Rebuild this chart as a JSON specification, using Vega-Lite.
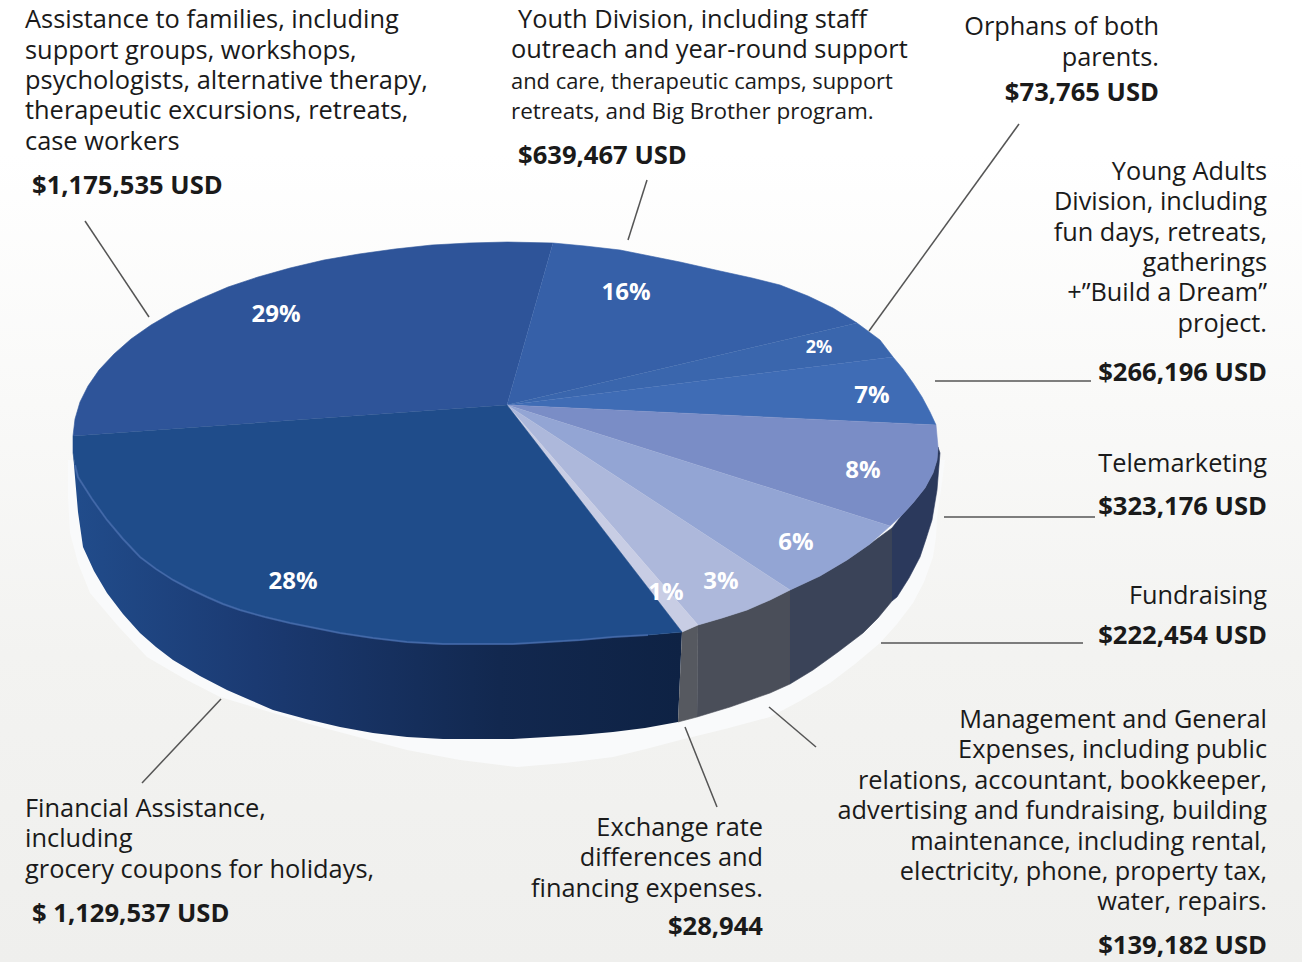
{
"$schema":"https://vega.github.io/schema/vega-lite/v6.json",
"width":1302,"height":962,"padding":0,"autosize":{"type":"fit","contains":"padding"},
"background":"#ffffff",
"view":{"stroke":null},
"datasets":{
"bg":[{"x":0,"y":0,"x2":1302,"y2":962}],
"poly":[
{"part":"shadow","i":1,"x":945,"y":460},{"part":"shadow","i":2,"x":941,"y":490},{"part":"shadow","i":3,"x":937,"y":517},{"part":"shadow","i":4,"x":936,"y":537},{"part":"shadow","i":5,"x":933,"y":557},{"part":"shadow","i":6,"x":924,"y":582},{"part":"shadow","i":7,"x":913,"y":603},{"part":"shadow","i":8,"x":897,"y":624},{"part":"shadow","i":9,"x":880,"y":643},{"part":"shadow","i":10,"x":855,"y":664},{"part":"shadow","i":11,"x":830,"y":683},{"part":"shadow","i":12,"x":800,"y":701},{"part":"shadow","i":13,"x":770,"y":717},{"part":"shadow","i":14,"x":725,"y":729},{"part":"shadow","i":15,"x":680,"y":740},{"part":"shadow","i":16,"x":646,"y":749},{"part":"shadow","i":17,"x":613,"y":757},{"part":"shadow","i":18,"x":565,"y":763},{"part":"shadow","i":19,"x":517,"y":767},{"part":"shadow","i":20,"x":460,"y":760},{"part":"shadow","i":21,"x":407,"y":750},{"part":"shadow","i":22,"x":313,"y":725},{"part":"shadow","i":23,"x":220,"y":697},{"part":"shadow","i":24,"x":183,"y":678},{"part":"shadow","i":25,"x":147,"y":657},{"part":"shadow","i":26,"x":118,"y":626},{"part":"shadow","i":27,"x":90,"y":593},{"part":"shadow","i":28,"x":78,"y":563},{"part":"shadow","i":29,"x":70,"y":533},{"part":"shadow","i":30,"x":68,"y":497},{"part":"shadow","i":31,"x":68,"y":460},
{"part":"wall28","i":1,"x":73,"y":453},{"part":"wall28","i":2,"x":75,"y":465},{"part":"wall28","i":3,"x":78,"y":477},{"part":"wall28","i":4,"x":92,"y":499},{"part":"wall28","i":5,"x":107,"y":520},{"part":"wall28","i":6,"x":123,"y":539},{"part":"wall28","i":7,"x":140,"y":557},{"part":"wall28","i":8,"x":156,"y":569},{"part":"wall28","i":9,"x":173,"y":580},{"part":"wall28","i":10,"x":190,"y":589},{"part":"wall28","i":11,"x":207,"y":597},{"part":"wall28","i":12,"x":223,"y":604},{"part":"wall28","i":13,"x":240,"y":610},{"part":"wall28","i":14,"x":265,"y":617},{"part":"wall28","i":15,"x":290,"y":623},{"part":"wall28","i":16,"x":315,"y":628},{"part":"wall28","i":17,"x":340,"y":633},{"part":"wall28","i":18,"x":373,"y":638},{"part":"wall28","i":19,"x":407,"y":642},{"part":"wall28","i":20,"x":443,"y":644},{"part":"wall28","i":21,"x":480,"y":644},{"part":"wall28","i":22,"x":513,"y":644},{"part":"wall28","i":23,"x":547,"y":642},{"part":"wall28","i":24,"x":580,"y":640},{"part":"wall28","i":25,"x":613,"y":637},{"part":"wall28","i":26,"x":648,"y":635},{"part":"wall28","i":27,"x":682,"y":632},{"part":"wall28","i":28,"x":678,"y":722},{"part":"wall28","i":29,"x":645,"y":728},{"part":"wall28","i":30,"x":613,"y":732},{"part":"wall28","i":31,"x":580,"y":735},{"part":"wall28","i":32,"x":547,"y":737},{"part":"wall28","i":33,"x":513,"y":739},{"part":"wall28","i":34,"x":480,"y":739},{"part":"wall28","i":35,"x":443,"y":739},{"part":"wall28","i":36,"x":407,"y":737},{"part":"wall28","i":37,"x":373,"y":733},{"part":"wall28","i":38,"x":340,"y":727},{"part":"wall28","i":39,"x":306,"y":719},{"part":"wall28","i":40,"x":273,"y":710},{"part":"wall28","i":41,"x":250,"y":700},{"part":"wall28","i":42,"x":227,"y":690},{"part":"wall28","i":43,"x":200,"y":676},{"part":"wall28","i":44,"x":173,"y":660},{"part":"wall28","i":45,"x":156,"y":647},{"part":"wall28","i":46,"x":140,"y":633},{"part":"wall28","i":47,"x":123,"y":614},{"part":"wall28","i":48,"x":107,"y":593},{"part":"wall28","i":49,"x":94,"y":571},{"part":"wall28","i":50,"x":83,"y":547},{"part":"wall28","i":51,"x":78,"y":512},{"part":"wall28","i":52,"x":75,"y":477},
{"part":"wall1","i":1,"x":682,"y":632},{"part":"wall1","i":2,"x":698,"y":625},{"part":"wall1","i":3,"x":697,"y":717},{"part":"wall1","i":4,"x":678,"y":722},
{"part":"wall3","i":1,"x":698,"y":625},{"part":"wall3","i":2,"x":722,"y":618},{"part":"wall3","i":3,"x":747,"y":610},{"part":"wall3","i":4,"x":770,"y":600},{"part":"wall3","i":5,"x":790,"y":590},{"part":"wall3","i":6,"x":790,"y":684},{"part":"wall3","i":7,"x":770,"y":693},{"part":"wall3","i":8,"x":750,"y":700},{"part":"wall3","i":9,"x":730,"y":707},{"part":"wall3","i":10,"x":697,"y":717},
{"part":"wall6","i":1,"x":790,"y":590},{"part":"wall6","i":2,"x":820,"y":576},{"part":"wall6","i":3,"x":847,"y":560},{"part":"wall6","i":4,"x":870,"y":544},{"part":"wall6","i":5,"x":892,"y":528},{"part":"wall6","i":6,"x":892,"y":601},{"part":"wall6","i":7,"x":878,"y":618},{"part":"wall6","i":8,"x":863,"y":633},{"part":"wall6","i":9,"x":838,"y":652},{"part":"wall6","i":10,"x":813,"y":670},{"part":"wall6","i":11,"x":790,"y":684},
{"part":"wall8","i":1,"x":892,"y":528},{"part":"wall8","i":2,"x":902,"y":515},{"part":"wall8","i":3,"x":913,"y":503},{"part":"wall8","i":4,"x":925,"y":488},{"part":"wall8","i":5,"x":933,"y":473},{"part":"wall8","i":6,"x":937,"y":460},{"part":"wall8","i":7,"x":938,"y":447},{"part":"wall8","i":8,"x":940,"y":453},{"part":"wall8","i":9,"x":937,"y":490},{"part":"wall8","i":10,"x":932,"y":520},{"part":"wall8","i":11,"x":926,"y":539},{"part":"wall8","i":12,"x":920,"y":557},{"part":"wall8","i":13,"x":909,"y":578},{"part":"wall8","i":14,"x":897,"y":597},{"part":"wall8","i":15,"x":892,"y":601},
{"part":"s29","i":1,"x":507,"y":405},{"part":"s29","i":2,"x":73,"y":436},{"part":"s29","i":3,"x":75,"y":419},{"part":"s29","i":4,"x":80,"y":402},{"part":"s29","i":5,"x":88,"y":386},{"part":"s29","i":6,"x":99,"y":370},{"part":"s29","i":7,"x":114,"y":354},{"part":"s29","i":8,"x":131,"y":339},{"part":"s29","i":9,"x":151,"y":325},{"part":"s29","i":10,"x":175,"y":311},{"part":"s29","i":11,"x":200,"y":299},{"part":"s29","i":12,"x":228,"y":287},{"part":"s29","i":13,"x":258,"y":277},{"part":"s29","i":14,"x":290,"y":268},{"part":"s29","i":15,"x":324,"y":260},{"part":"s29","i":16,"x":359,"y":254},{"part":"s29","i":17,"x":395,"y":249},{"part":"s29","i":18,"x":432,"y":245},{"part":"s29","i":19,"x":469,"y":243},{"part":"s29","i":20,"x":507,"y":242},{"part":"s29","i":21,"x":553,"y":243},
{"part":"s16","i":1,"x":507,"y":405},{"part":"s16","i":2,"x":553,"y":243},{"part":"s16","i":3,"x":585,"y":246},{"part":"s16","i":4,"x":620,"y":250},{"part":"s16","i":5,"x":650,"y":256},{"part":"s16","i":6,"x":680,"y":262},{"part":"s16","i":7,"x":720,"y":271},{"part":"s16","i":8,"x":752,"y":278},{"part":"s16","i":9,"x":780,"y":285},{"part":"s16","i":10,"x":808,"y":296},{"part":"s16","i":11,"x":833,"y":308},{"part":"s16","i":12,"x":857,"y":323},
{"part":"s2","i":1,"x":507,"y":405},{"part":"s2","i":2,"x":857,"y":323},{"part":"s2","i":3,"x":880,"y":340},{"part":"s2","i":4,"x":893,"y":357},
{"part":"s7","i":1,"x":507,"y":405},{"part":"s7","i":2,"x":893,"y":357},{"part":"s7","i":3,"x":903,"y":369},{"part":"s7","i":4,"x":913,"y":383},{"part":"s7","i":5,"x":922,"y":397},{"part":"s7","i":6,"x":930,"y":412},{"part":"s7","i":7,"x":936,"y":425},
{"part":"s8","i":1,"x":507,"y":405},{"part":"s8","i":2,"x":936,"y":425},{"part":"s8","i":3,"x":938,"y":447},{"part":"s8","i":4,"x":937,"y":460},{"part":"s8","i":5,"x":933,"y":473},{"part":"s8","i":6,"x":925,"y":488},{"part":"s8","i":7,"x":913,"y":503},{"part":"s8","i":8,"x":902,"y":515},{"part":"s8","i":9,"x":890,"y":526},
{"part":"s6","i":1,"x":507,"y":405},{"part":"s6","i":2,"x":890,"y":526},{"part":"s6","i":3,"x":870,"y":544},{"part":"s6","i":4,"x":847,"y":560},{"part":"s6","i":5,"x":820,"y":576},{"part":"s6","i":6,"x":790,"y":590},
{"part":"s3","i":1,"x":507,"y":405},{"part":"s3","i":2,"x":790,"y":590},{"part":"s3","i":3,"x":770,"y":600},{"part":"s3","i":4,"x":747,"y":610},{"part":"s3","i":5,"x":722,"y":618},{"part":"s3","i":6,"x":698,"y":625},
{"part":"s1","i":1,"x":507,"y":405},{"part":"s1","i":2,"x":698,"y":625},{"part":"s1","i":3,"x":682,"y":632},
{"part":"s28","i":1,"x":507,"y":405},{"part":"s28","i":2,"x":682,"y":632},{"part":"s28","i":3,"x":648,"y":635},{"part":"s28","i":4,"x":613,"y":637},{"part":"s28","i":5,"x":580,"y":640},{"part":"s28","i":6,"x":547,"y":642},{"part":"s28","i":7,"x":513,"y":644},{"part":"s28","i":8,"x":480,"y":644},{"part":"s28","i":9,"x":443,"y":644},{"part":"s28","i":10,"x":407,"y":642},{"part":"s28","i":11,"x":373,"y":638},{"part":"s28","i":12,"x":340,"y":633},{"part":"s28","i":13,"x":315,"y":628},{"part":"s28","i":14,"x":290,"y":623},{"part":"s28","i":15,"x":265,"y":617},{"part":"s28","i":16,"x":240,"y":610},{"part":"s28","i":17,"x":223,"y":604},{"part":"s28","i":18,"x":207,"y":597},{"part":"s28","i":19,"x":190,"y":589},{"part":"s28","i":20,"x":173,"y":580},{"part":"s28","i":21,"x":156,"y":569},{"part":"s28","i":22,"x":140,"y":557},{"part":"s28","i":23,"x":123,"y":539},{"part":"s28","i":24,"x":107,"y":520},{"part":"s28","i":25,"x":92,"y":499},{"part":"s28","i":26,"x":78,"y":477},{"part":"s28","i":27,"x":75,"y":465},{"part":"s28","i":28,"x":73,"y":453},{"part":"s28","i":29,"x":73,"y":436}
],
"leaders":[
{"x":85,"y":221,"x2":149,"y2":317},{"x":647,"y":180,"x2":628,"y2":240},{"x":1019,"y":124,"x2":869,"y2":331},{"x":935,"y":381,"x2":1091,"y2":381},{"x":944,"y":517,"x2":1095,"y2":517},{"x":881,"y":643,"x2":1083,"y2":643},{"x":769,"y":707,"x2":816,"y2":747},{"x":685,"y":727,"x2":717,"y2":807},{"x":221,"y":699,"x2":142,"y2":783}
],
"labels":[
{"g":"nl","t":"Assistance to families, including","x":25,"y":28},
{"g":"nl","t":"support groups, workshops,","x":25,"y":59},
{"g":"nl","t":"psychologists, alternative therapy,","x":25,"y":89},
{"g":"nl","t":"therapeutic excursions, retreats,","x":25,"y":119},
{"g":"nl","t":"case workers","x":25,"y":150},
{"g":"nl","t":"Youth Division, including staff","x":518,"y":28},
{"g":"nl","t":"outreach and year-round support","x":511,"y":58},
{"g":"tl","t":"and care, therapeutic camps, support","x":511,"y":89},
{"g":"tm","t":"retreats, and Big Brother program.","x":511,"y":119},
{"g":"nl","t":"Financial Assistance,","x":25,"y":817},
{"g":"nl","t":"including","x":25,"y":847},
{"g":"nl","t":"grocery coupons for holidays,","x":25,"y":878},
{"g":"nr","t":"Orphans of both","x":1159,"y":35},
{"g":"nr","t":"parents.","x":1159,"y":66},
{"g":"nr","t":"Young Adults","x":1267,"y":180},
{"g":"nr","t":"Division, including","x":1267,"y":210},
{"g":"nr","t":"fun days, retreats,","x":1267,"y":241},
{"g":"nr","t":"gatherings","x":1267,"y":271},
{"g":"nr","t":"+”Build a Dream”","x":1267,"y":301},
{"g":"nr","t":"project.","x":1267,"y":332},
{"g":"nr","t":"Telemarketing","x":1267,"y":472},
{"g":"nr","t":"Fundraising","x":1267,"y":604},
{"g":"nr","t":"Management and General","x":1267,"y":728},
{"g":"nr","t":"Expenses, including public","x":1267,"y":758},
{"g":"nr","t":"relations, accountant, bookkeeper,","x":1267,"y":789},
{"g":"nr","t":"advertising and fundraising, building","x":1267,"y":819},
{"g":"nr","t":"maintenance, including rental,","x":1267,"y":850},
{"g":"nr","t":"electricity, phone, property tax,","x":1267,"y":880},
{"g":"nr","t":"water, repairs.","x":1267,"y":910},
{"g":"nr","t":"Exchange rate","x":763,"y":836},
{"g":"nr","t":"differences and","x":763,"y":866},
{"g":"nr","t":"financing expenses.","x":763,"y":897},
{"g":"bl","t":"$1,175,535 USD","x":32,"y":194},
{"g":"bl","t":"$639,467 USD","x":518,"y":164},
{"g":"bl","t":"$ 1,129,537 USD","x":32,"y":922},
{"g":"br","t":"$73,765 USD","x":1159,"y":101},
{"g":"br","t":"$266,196 USD","x":1267,"y":381},
{"g":"br","t":"$323,176 USD","x":1267,"y":515},
{"g":"br","t":"$222,454 USD","x":1267,"y":644},
{"g":"br","t":"$139,182 USD","x":1267,"y":954},
{"g":"br","t":"$28,944","x":763,"y":935},
{"g":"p","t":"29%","x":276,"y":322},
{"g":"p","t":"16%","x":626,"y":300},
{"g":"ps","t":"2%","x":819,"y":353},
{"g":"p","t":"7%","x":872,"y":403},
{"g":"p","t":"8%","x":863,"y":478},
{"g":"p","t":"6%","x":796,"y":550},
{"g":"p","t":"3%","x":721,"y":589},
{"g":"p","t":"1%","x":666,"y":600},
{"g":"p","t":"28%","x":293,"y":589}
]
},
"encoding":{
"x":{"field":"x","type":"quantitative","scale":{"domain":[0,1302],"nice":false,"zero":false},"axis":null},
"y":{"field":"y","type":"quantitative","scale":{"domain":[962,0],"nice":false,"zero":false},"axis":null}
},
"layer":[
{"data":{"name":"bg"},"mark":{"type":"rect","color":{"gradient":"linear","x1":0,"y1":0,"x2":0,"y2":1,"stops":[{"offset":0,"color":"#ffffff"},{"offset":0.16,"color":"#ffffff"},{"offset":0.68,"color":"#f3f3f1"},{"offset":1,"color":"#efefed"}]}},"encoding":{"x2":{"field":"x2"},"y2":{"field":"y2"}}},
{"data":{"name":"poly"},"transform":[{"filter":"datum.part==='shadow'"}],"mark":{"type":"line","filled":true,"color":"#f9fafb","stroke":null},"encoding":{"order":{"field":"i"}}},
{"data":{"name":"leaders"},"mark":{"type":"rule","color":"#555555","strokeWidth":1.5},"encoding":{"x2":{"field":"x2"},"y2":{"field":"y2"}}},
{"data":{"name":"poly"},"transform":[{"filter":"datum.part==='wall28'"}],"mark":{"type":"line","filled":true,"stroke":null,"color":{"gradient":"linear","x1":0,"y1":0,"x2":1,"y2":0,"stops":[{"offset":0,"color":"#214c8b"},{"offset":0.3,"color":"#1b3a72"},{"offset":0.7,"color":"#12284f"},{"offset":1,"color":"#0e2244"}]}},"encoding":{"order":{"field":"i"}}},
{"data":{"name":"poly"},"transform":[{"filter":"datum.part!=='shadow'&&datum.part!=='wall28'"}],"mark":{"type":"line","filled":true,"strokeWidth":0.6},"encoding":{"order":{"field":"i"},"color":{"field":"part","type":"nominal","legend":null,"scale":{"domain":["wall1","wall3","wall6","wall8","s29","s16","s2","s7","s8","s6","s3","s1","s28"],"range":["#565960","#4a4e59","#3a4358","#2b395c","#2e5499","#3660a8","#3a66ad","#3f6cb5","#7a8dc6","#93a5d4","#adb8db","#c8cde4","#1f4c8a"]}},"stroke":{"field":"part","type":"nominal","legend":null,"scale":{"domain":["wall1","wall3","wall6","wall8","s29","s16","s2","s7","s8","s6","s3","s1","s28"],"range":["#565960","#4a4e59","#3a4358","#2b395c","#2e5499","#3660a8","#3a66ad","#3f6cb5","#7a8dc6","#93a5d4","#adb8db","#c8cde4","#1f4c8a"]}}}},
{"data":{"name":"poly"},"transform":[{"filter":"datum.part==='s28'&&datum.i>=3&&datum.i<=27"}],"mark":{"type":"line","color":"#4a6fb0","strokeWidth":2,"opacity":0.7},"encoding":{"order":{"field":"i"}}},
{"data":{"name":"labels"},"transform":[{"filter":"datum.g==='nl'"}],"mark":{"type":"text","align":"left","baseline":"alphabetic","font":"Open Sans","fontSize":25.4,"fill":"#1a1a1a"},"encoding":{"text":{"field":"t"}}},
{"data":{"name":"labels"},"transform":[{"filter":"datum.g==='tl'"}],"mark":{"type":"text","align":"left","baseline":"alphabetic","font":"Open Sans","fontSize":21.9,"fill":"#1a1a1a"},"encoding":{"text":{"field":"t"}}},
{"data":{"name":"labels"},"transform":[{"filter":"datum.g==='tm'"}],"mark":{"type":"text","align":"left","baseline":"alphabetic","font":"Open Sans","fontSize":22.5,"fill":"#1a1a1a"},"encoding":{"text":{"field":"t"}}},
{"data":{"name":"labels"},"transform":[{"filter":"datum.g==='nr'"}],"mark":{"type":"text","align":"right","baseline":"alphabetic","font":"Open Sans","fontSize":25.3,"fill":"#1a1a1a"},"encoding":{"text":{"field":"t"}}},
{"data":{"name":"labels"},"transform":[{"filter":"datum.g==='bl'"}],"mark":{"type":"text","align":"left","baseline":"alphabetic","font":"Open Sans","fontSize":25.6,"fontWeight":"bold","fill":"#1a1a1a"},"encoding":{"text":{"field":"t"}}},
{"data":{"name":"labels"},"transform":[{"filter":"datum.g==='br'"}],"mark":{"type":"text","align":"right","baseline":"alphabetic","font":"Open Sans","fontSize":25.6,"fontWeight":"bold","fill":"#1a1a1a"},"encoding":{"text":{"field":"t"}}},
{"data":{"name":"labels"},"transform":[{"filter":"datum.g==='p'"}],"mark":{"type":"text","align":"center","baseline":"alphabetic","font":"Open Sans","fontSize":24,"fontWeight":"bold","fill":"#ffffff"},"encoding":{"text":{"field":"t"}}},
{"data":{"name":"labels"},"transform":[{"filter":"datum.g==='ps'"}],"mark":{"type":"text","align":"center","baseline":"alphabetic","font":"Open Sans","fontSize":18,"fontWeight":"bold","fill":"#ffffff"},"encoding":{"text":{"field":"t"}}}
]
}
